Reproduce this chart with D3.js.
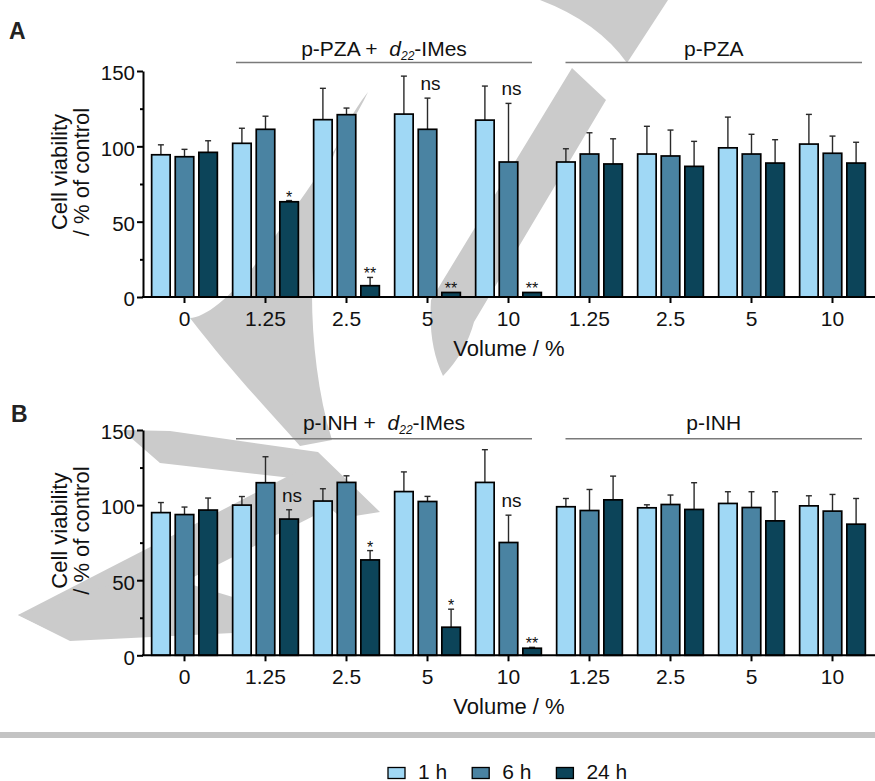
<!DOCTYPE html>
<html>
<head>
<meta charset="utf-8">
<script src="https://cdn.jsdelivr.net/npm/d3@7"></script>
<style>
  body { margin: 0; background: #fff; }
  svg { display: block; font-family: "Liberation Sans", Arial, sans-serif; }
</style>
</head>
<body>
<div id="chart"></div>
<script>
// Categories and series
const volumes = ["0", "1.25", "2.5", "5", "10", "1.25", "2.5", "5", "10"];
const series = ["1 h", "6 h", "24 h"];
const colors = ["#a0d8f5", "#4a83a2", "#0c4459"];

// Panel A: p-PZA (+ d22-IMes), mean and upper SD
const pza1h = [94.4, 102, 117.7, 121.4, 117.4, 89.6, 94.9, 99, 101.5];
const pza6h = [93.1, 111.3, 121, 111.3, 89.6, 94.9, 93.6, 94.9, 95.4];
const pza24h = [96, 63.2, 7.5, 3, 3, 88.3, 86.7, 88.9, 88.9];
const pza1hErr = [6.6, 10, 20.8, 25.2, 22.6, 8.8, 18.4, 20.4, 19.7];
const pza6hErr = [4.9, 8.7, 4.4, 20.7, 38.9, 14.1, 17.2, 13.1, 11.4];
const pza24hErr = [7.7, 0.8, 5.5, 0.3, 0.3, 16.7, 16.6, 15.5, 13.8];
const pzaMarks = [
  { g: 1, s: 2, t: "*" }, { g: 2, s: 2, t: "**" }, { g: 3, s: 2, t: "**" },
  { g: 4, s: 2, t: "**" }, { g: 3, s: 1, t: "ns" }, { g: 4, s: 1, t: "ns" }
];

// Panel B: p-INH (+ d22-IMes)
const inh1h = [95, 100, 102.7, 109, 115.1, 98.9, 98.2, 101.1, 99.5];
const inh6h = [93.7, 114.9, 115.1, 102.4, 75.1, 96.4, 100.4, 98.4, 96];
const inh24h = [96.7, 90.7, 63.5, 18.7, 4.7, 103.5, 97.1, 89.5, 87.3];
const inh1hErr = [6.7, 5.7, 8.2, 13.1, 21.8, 5.5, 2, 7.8, 6.7];
const inh6hErr = [5, 17.3, 4.4, 3.4, 18.2, 14, 6.3, 10.5, 11.1];
const inh24hErr = [8, 6.2, 6.2, 12, 0.6, 15.8, 17.8, 19.4, 17.1];
const inhMarks = [
  { g: 1, s: 2, t: "ns" }, { g: 2, s: 2, t: "*" }, { g: 3, s: 2, t: "*" },
  { g: 4, s: 2, t: "**" }, { g: 4, s: 1, t: "ns" }
];

const yTicks = [0, 50, 100, 150];
const yMinor = [25, 75, 125];

const W = 875, H = 781;
const svg = d3.select("#chart").append("svg")
  .attr("width", W)
  .attr("height", H);

// journal watermark (grey strokes behind the plots)
const watermark = [
  "M540,0 L668,0 L627,63 Q598,22 540,0 Z",
  "M572,68 L606,100 L474,322 Q466,352 443,376 Q428,345 431,300 Z",
  "M368,92 C345,140 300,200 262,255 C235,295 205,318 190,318 C230,370 268,410 300,446 L332,440 C318,395 312,340 312,295 C313,210 330,140 368,92 Z",
  "M122,430 L170,431 L318,452 L380,512 L342,518 L292,478 L160,463 Z",
  "M300,470 L345,500 L70,640 L18,615 Z",
  "M18,615 L150,572 L236,598 L233,633 L70,641 Z"
];
svg.append("g").selectAll("path")
  .data(watermark)
  .join("path")
  .attr("d", d => d)
  .attr("fill", "#cbcbcb");

function drawPanel(p) {
  const g = svg.append("g");

  const x = d3.scaleBand().domain(d3.range(volumes.length)).range([144, 873]);
  const xi = d3.scaleBand().domain(d3.range(series.length))
    .range([0, x.bandwidth()])
    .paddingInner(0.216)
    .paddingOuter(0.324);
  const y = d3.scaleLinear().domain([0, 150]).range([p.bottom, p.top]);

  const bars = [];
  p.means.forEach((vals, s) => vals.forEach((v, i) =>
    bars.push({ g: i, s: s, v: v, e: p.errs[s][i] })));
  const cx = d => x(d.g) + xi(d.s) + xi.bandwidth() / 2;

  // error bars (upper whisker only)
  const err = g.append("g").attr("stroke", "#2a2a2a").attr("stroke-width", 1.4);
  err.selectAll("line.w").data(bars).join("line")
    .attr("class", "w")
    .attr("x1", cx).attr("x2", cx)
    .attr("y1", d => y(d.v)).attr("y2", d => y(d.v + d.e));
  err.selectAll("line.c").data(bars.filter(d => d.e > 0.5)).join("line")
    .attr("class", "c")
    .attr("x1", d => cx(d) - 3).attr("x2", d => cx(d) + 3)
    .attr("y1", d => y(d.v + d.e)).attr("y2", d => y(d.v + d.e));

  // bars
  g.append("g").selectAll("rect").data(bars).join("rect")
    .attr("x", d => x(d.g) + xi(d.s))
    .attr("y", d => y(d.v))
    .attr("width", xi.bandwidth())
    .attr("height", d => y(0) - y(d.v))
    .attr("fill", d => colors[d.s])
    .attr("stroke", "#000")
    .attr("stroke-width", 1.7);

  // significance labels
  g.append("g").selectAll("text").data(p.marks).join("text")
    .attr("x", d => x(d.g) + xi(d.s) + xi.bandwidth() / 2 + (d.t === "ns" ? 3 : 0))
    .attr("y", d => {
      const top = y(p.means[d.s][d.g] + p.errs[d.s][d.g]);
      return d.t === "ns" ? top - 8 : top + 2;
    })
    .attr("text-anchor", "middle")
    .attr("font-size", d => d.t === "ns" ? 19 : 16)
    .attr("fill", "#111")
    .text(d => d.t);

  // y axis
  const yAxis = g.append("g")
    .attr("transform", "translate(143,0)")
    .call(d3.axisLeft(y).tickValues(yTicks).tickSize(6).tickSizeOuter(0).tickPadding(2));
  yAxis.selectAll("text").attr("font-size", 20.5).attr("fill", "#111").attr("dy", "0.43em");
  g.append("g")
    .attr("transform", "translate(143,0)")
    .call(d3.axisLeft(y).tickValues(yMinor).tickSize(3).tickFormat(""))
    .call(a => a.select(".domain").remove());
  g.selectAll(".domain, .tick line").attr("stroke", "#000").attr("stroke-width", 2);

  // x axis
  const xAxis = g.append("g")
    .attr("transform", `translate(0,${y(0)})`)
    .call(d3.axisBottom(x).tickFormat(i => volumes[i]).tickSize(6).tickSizeOuter(0).tickPadding(8));
  xAxis.select(".domain").remove();
  xAxis.selectAll(".tick line").attr("stroke", "#000").attr("stroke-width", 2);
  xAxis.selectAll("text").attr("font-size", 21).attr("fill", "#111");
  g.append("line")
    .attr("x1", 142).attr("x2", W)
    .attr("y1", y(0)).attr("y2", y(0))
    .attr("stroke", "#000").attr("stroke-width", 2);

  // axis titles
  const midY = (p.top + p.bottom) / 2 - 12;
  [["Cell viability", 67], ["/ % of control", 89]].forEach(([t, bx]) => {
    g.append("text")
      .attr("transform", `translate(${bx},${midY}) rotate(-90)`)
      .attr("text-anchor", "middle")
      .attr("font-size", 22)
      .attr("fill", "#111")
      .text(t);
  });
  g.append("text")
    .attr("x", 509).attr("y", y(0) + 59)
    .attr("text-anchor", "middle")
    .attr("font-size", 22)
    .attr("fill", "#111")
    .text("Volume / %");

  // treatment headers
  const heads = [
    { x1: x(1) + 11, x2: x(4) + x.bandwidth() - 17, combo: true },
    { x1: x(5) + 16.5, x2: x(8) + x.bandwidth() - 11, combo: false }
  ];
  heads.forEach(h => {
    g.append("line")
      .attr("x1", h.x1).attr("x2", h.x2)
      .attr("y1", p.headLine).attr("y2", p.headLine)
      .attr("stroke", "#7a7a7a").attr("stroke-width", 1.5);
    const t = g.append("text")
      .attr("x", (h.x1 + h.x2) / 2)
      .attr("y", p.headBase)
      .attr("text-anchor", "middle")
      .attr("font-size", 21)
      .attr("fill", "#111");
    if (h.combo) {
      t.append("tspan").text(p.drug + " +\u00a0\u00a0");
      t.append("tspan").attr("font-style", "italic").text("d");
      t.append("tspan").attr("font-size", 12).attr("font-style", "italic").attr("dy", 4).text("22");
      t.append("tspan").attr("dy", -4).text("-IMes");
    } else {
      t.text(p.drug);
    }
  });

  // panel letter
  g.append("text")
    .attr("x", p.letterX).attr("y", p.letterY)
    .attr("font-size", 23)
    .attr("font-weight", "bold")
    .attr("fill", "#222")
    .text(p.letter);
}

drawPanel({
  letter: "A", letterX: 9, letterY: 39,
  drug: "p-PZA",
  top: 71, bottom: 297,
  headBase: 55.5, headLine: 62.5,
  means: [pza1h, pza6h, pza24h],
  errs: [pza1hErr, pza6hErr, pza24hErr],
  marks: pzaMarks
});

drawPanel({
  letter: "B", letterX: 11, letterY: 422,
  drug: "p-INH",
  top: 430, bottom: 655.3,
  headBase: 429.5, headLine: 438.7,
  means: [inh1h, inh6h, inh24h],
  errs: [inh1hErr, inh6hErr, inh24hErr],
  marks: inhMarks
});

// separator band
svg.append("rect")
  .attr("x", 0).attr("y", 732)
  .attr("width", W).attr("height", 6)
  .attr("fill", "#c3c3c3");

// legend
const legend = svg.append("g");
let lx = 388;
series.forEach((name, i) => {
  legend.append("rect")
    .attr("x", lx).attr("y", 767.5)
    .attr("width", 17).attr("height", 11)
    .attr("fill", colors[i])
    .attr("stroke", "#000").attr("stroke-width", 1.3);
  const t = legend.append("text")
    .attr("x", lx + 30).attr("y", 778.5)
    .attr("font-size", 21)
    .attr("fill", "#111")
    .text(name);
  lx += 30 + t.node().getComputedTextLength() + 25;
});
</script>
</body>
</html>
